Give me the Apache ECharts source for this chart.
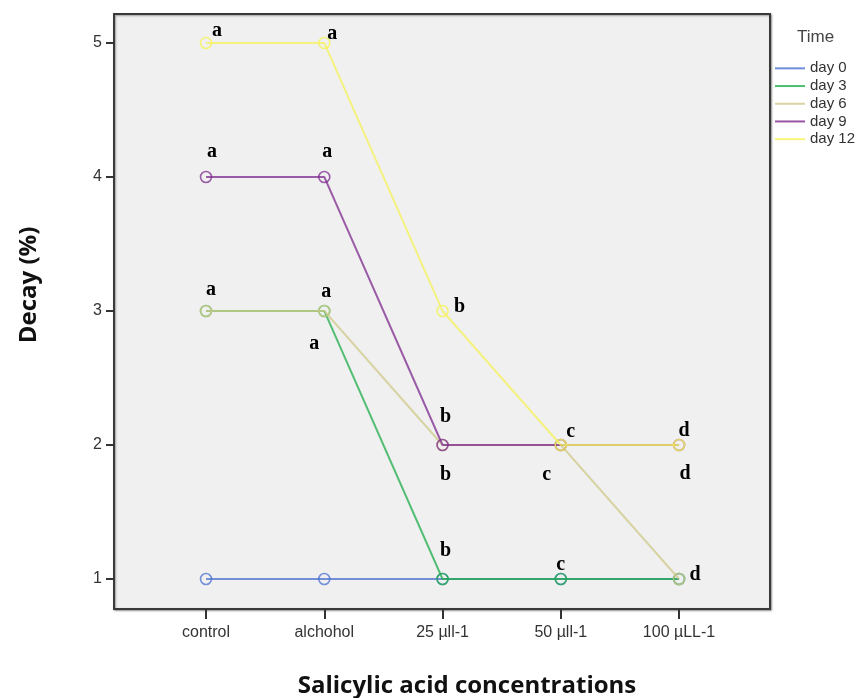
<!DOCTYPE html>
<html>
<head>
<meta charset="utf-8">
<script src="https://cdn.jsdelivr.net/npm/echarts@6/dist/echarts.min.js"></script>
<style>
  html, body { margin: 0; padding: 0; background: #ffffff; }
  #chart { width: 861px; height: 698px; }
</style>
</head>
<body>
<div id="chart"></div>
<script>
// Concentration groups on the x axis
const categories = ['control', 'alchohol', '25 µll-1', '50 µll-1', '100 µLL-1'];
const seriesNames = ['day 0', 'day 3', 'day 6', 'day 9', 'day 12'];

// Decay (%) per concentration for each storage day
const day0 = [1, 1, 1, 1, 1];
const day3 = [3, 3, 1, 1, 1];
const day6 = [3, 3, 2, 2, 1];
const day9 = [4, 4, 2, 2, 2];
const day12 = [5, 5, 3, 2, 2];

// Significance letters attached to each point
const letters0 = ['', '', '', '', ''];
const letters3 = ['', 'a', 'b', 'c', 'd'];
const letters6 = ['a', 'a', 'b', 'c', ''];
const letters9 = ['a', 'a', 'b', '', 'd'];
const letters12 = ['a', 'a', 'b', 'c', 'd'];

const yTicks = [1, 2, 3, 4, 5];

const values = [day0, day3, day6, day9, day12];
const letters = [letters0, letters3, letters6, letters9, letters12];
const colors = ['#4a6fd0', '#1fae4a', '#cfc98a', '#7d2a8e', '#f6f25a'];
const symbolColors = ['rgba(74,111,208,0.75)', 'rgba(31,174,74,0.75)', 'rgba(207,201,138,0.8)',
                      'rgba(125,42,142,0.75)', 'rgba(246,242,90,0.8)'];

// Where each letter sits relative to its point (px)
const letterOffsets = [
  [null, null, null, null, null],
  [null, [-10, 33], [3, -28], [0, -14], [16, -4]],
  [[5, -21], [2, -19], [3, 30], [-14, 30], null],
  [[6, -25], [3, -25], [3, -28], null, [6, 29]],
  [[11, -12], [8, -9], [17, -4], [10, -13], [5, -14]]
];

const chart = echarts.init(document.getElementById('chart'), null, { renderer: 'canvas' });

const series = seriesNames.map((name, i) => ({
  name: name,
  type: 'line',
  z: 2 + i,
  symbol: 'circle',
  symbolSize: 11,
  color: colors[i],
  lineStyle: { color: colors[i], width: 2, opacity: 0.75 },
  itemStyle: { color: 'rgba(0,0,0,0)', borderColor: symbolColors[i], borderWidth: 1.6 },
  emphasis: { disabled: true },
  data: values[i].map((v, j) => {
    const txt = letters[i][j];
    const off = letterOffsets[i][j] || [0, 0];
    return {
      value: [j, v],
      label: {
        show: txt !== '',
        position: 'inside',
        offset: off,
        formatter: () => txt,
        fontFamily: 'Liberation Serif',
        fontWeight: 'bold',
        fontSize: 20,
        color: '#000000',
        align: 'center',
        verticalAlign: 'middle'
      }
    };
  })
}));

chart.setOption({
  animation: false,
  backgroundColor: '#ffffff',
  title: {
    text: 'Time',
    left: 797,
    top: 29,
    padding: 0,
    textStyle: { fontFamily: 'Liberation Sans', fontSize: 17, fontWeight: 'normal', color: '#444444' }
  },
  legend: {
    orient: 'vertical',
    left: 770,
    top: 55,
    itemWidth: 30,
    itemHeight: 2,
    itemGap: 1,
    itemSpacing: 4,
    icon: 'rect',
    data: seriesNames.map((n, i) => ({ name: n, itemStyle: { color: colors[i], borderWidth: 0, opacity: 0.8 } })),
    textStyle: { fontFamily: 'Liberation Sans', fontSize: 15, color: '#333333', lineHeight: 16.7 },
    selectedMode: false
  },
  grid: {
    show: true,
    left: 114,
    top: 14,
    right: 91,
    bottom: 89,
    outerBoundsMode: 'none',
    containLabel: false,
    backgroundColor: '#f0f0f0',
    borderColor: '#3a3a3a',
    borderWidth: 2,
    shadowColor: 'rgba(0,0,0,0.35)',
    shadowBlur: 2,
    shadowOffsetX: 1,
    shadowOffsetY: 1
  },
  // Axis titles
  graphic: [
    {
      type: 'text',
      x: 467,
      y: 686,
      style: {
        text: 'Salicylic acid concentrations',
        fontFamily: 'Open Sans',
        fontWeight: 'bold',
        fontSize: 24,
        fill: '#111111',
        align: 'center',
        verticalAlign: 'middle'
      }
    },
    {
      type: 'text',
      x: 29,
      y: 285,
      rotation: Math.PI / 2,
      style: {
        text: 'Decay (%)',
        fontFamily: 'Open Sans',
        fontWeight: 'bold',
        fontSize: 24,
        fill: '#111111',
        align: 'center',
        verticalAlign: 'middle'
      }
    }
  ],
  xAxis: {
    type: 'value',
    min: -0.778,
    max: 4.769,
    splitLine: { show: false },
    axisLine: { show: false, onZero: false },
    axisTick: { show: true, customValues: categories.map((c, i) => i), length: 10, lineStyle: { color: '#333333', width: 2 } },
    axisLabel: {
      customValues: categories.map((c, i) => i),
      formatter: v => categories[Math.round(v)],
      margin: 16,
      fontFamily: 'Liberation Sans',
      fontSize: 16,
      color: '#333333'
    }
  },
  yAxis: {
    type: 'value',
    min: 0.776,
    max: 5.216,
    splitLine: { show: false },
    axisLine: { show: false, onZero: false },
    axisTick: { show: true, customValues: yTicks, length: 8, lineStyle: { color: '#333333', width: 2 } },
    axisLabel: {
      customValues: yTicks,
      margin: 12,
      fontFamily: 'Liberation Sans',
      fontSize: 16,
      color: '#333333'
    }
  },
  series: series
});
</script>
</body>
</html>
